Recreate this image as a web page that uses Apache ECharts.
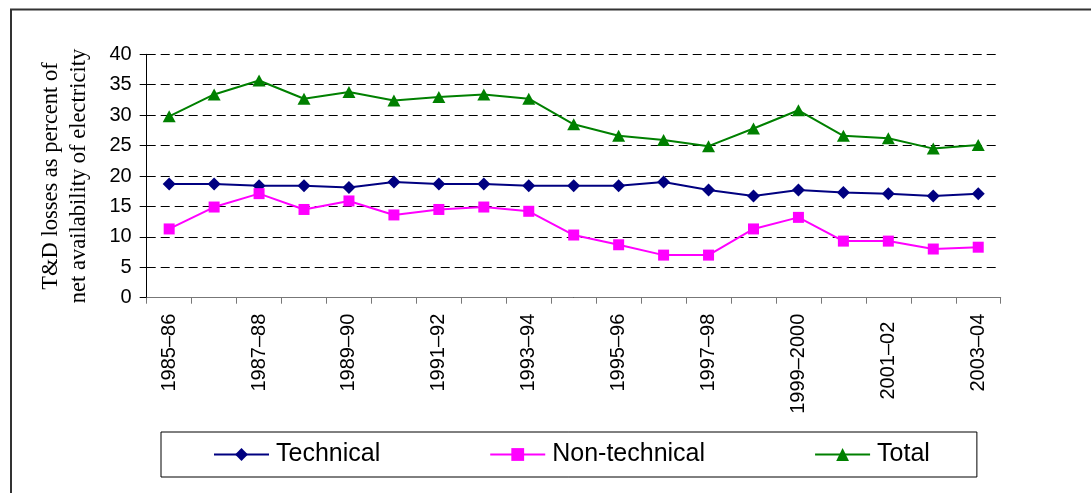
<!DOCTYPE html>
<html>
<head>
<meta charset="utf-8">
<script src="https://cdn.jsdelivr.net/npm/echarts@6/dist/echarts.min.js"></script>
<style>
  html, body { margin: 0; padding: 0; background: #fff; }
  #chart { width: 1091px; height: 493px; }
</style>
</head>
<body>
<div id="chart"></div>
<script>
// Fiscal years on the category axis
const years = [
  '1985–86', '1986–87', '1987–88', '1988–89', '1989–90', '1990–91', '1991–92',
  '1992–93', '1993–94', '1994–95', '1995–96', '1996–97', '1997–98', '1998–99',
  '1999–2000', '2000–01', '2001–02', '2002–03', '2003–04'
];

// T&D losses, percent of net availability of electricity
const technical = [18.7, 18.7, 18.4, 18.4, 18.1, 19.0, 18.7, 18.7, 18.4, 18.4,
                   18.4, 19.0, 17.7, 16.7, 17.7, 17.3, 17.1, 16.7, 17.1];
const nonTechnical = [11.3, 14.9, 17.1, 14.5, 15.9, 13.6, 14.5, 14.9, 14.2, 10.3,
                      8.7, 7.0, 7.0, 11.3, 13.2, 9.3, 9.3, 8.0, 8.3];
const total = [29.8, 33.4, 35.7, 32.7, 33.8, 32.4, 33.0, 33.4, 32.7, 28.5,
               26.6, 25.9, 24.9, 27.8, 30.8, 26.6, 26.2, 24.5, 25.1];

const seriesNames = ['Technical', 'Non-technical', 'Total'];
const yTitle = 'T&D losses as percent of\nnet availability of electricity';

const chart = echarts.init(document.getElementById('chart'), null, { renderer: 'canvas' });

const sansFont = '"Liberation Sans", Arial, sans-serif';

chart.setOption({
  animation: false,
  backgroundColor: '#ffffff',
  graphic: [
    { type: 'line', shape: { x1: 11, y1: 9, x2: 11, y2: 493 }, style: { stroke: '#333', lineWidth: 2 } },
    { type: 'line', shape: { x1: 10, y1: 9.5, x2: 1091, y2: 9.5 }, style: { stroke: '#333', lineWidth: 2 } }
  ],
  grid: { left: 146.7, right: 90.3, top: 54.3, bottom: 195.3, containLabel: false },
  legend: {
    data: seriesNames,
    left: 161,
    top: 432,
    orient: 'horizontal',
    padding: [10, 47, 10, 52],
    itemGap: 109,
    itemWidth: 55,
    itemHeight: 16,
    borderColor: '#000',
    borderWidth: 1,
    borderRadius: 0,
    textStyle: { fontFamily: sansFont, fontSize: 25, color: '#000', padding: [0, 0, 0, 2] }
  },
  xAxis: {
    type: 'category',
    data: years,
    boundaryGap: true,
    axisLine: { lineStyle: { color: '#777', width: 1 } },
    axisTick: { show: true, interval: 0, length: 6, lineStyle: { color: '#777' } },
    axisLabel: {
      interval: 1,
      rotate: 90,
      margin: 16,
      fontFamily: sansFont,
      fontSize: 20,
      color: '#000',
      formatter: (v) => v === '2001–02' ? '{shift|' + v + '}' : v,
      rich: {
        shift: { fontFamily: sansFont, fontSize: 20, color: '#000', padding: [0, 8, 0, 0] }
      }
    },
    splitLine: { show: false }
  },
  yAxis: {
    type: 'value',
    min: 0,
    max: 40,
    interval: 5,
    name: yTitle,
    nameLocation: 'middle',
    nameRotate: 90,
    nameGap: 54,
    nameTextStyle: {
      fontFamily: '"Liberation Serif", "Times New Roman", serif',
      fontSize: 22.5,
      lineHeight: 28,
      color: '#000',
      align: 'center'
    },
    axisLine: { show: true, lineStyle: { color: '#000', width: 1 } },
    axisTick: { show: true, length: 7, lineStyle: { color: '#000' } },
    axisLabel: { fontFamily: sansFont, fontSize: 20, color: '#000', margin: 15 },
    splitLine: { show: true, lineStyle: { color: '#000', type: [9, 5], width: 1 } }
  },
  series: [
    {
      name: 'Technical',
      type: 'line',
      data: technical,
      symbol: 'diamond',
      symbolSize: 13,
      color: '#000080',
      lineStyle: { color: '#000080', width: 2 },
      itemStyle: { color: '#000080' }
    },
    {
      name: 'Non-technical',
      type: 'line',
      data: nonTechnical,
      symbol: 'rect',
      symbolSize: 11,
      color: '#ff00ff',
      lineStyle: { color: '#ff00ff', width: 2 },
      itemStyle: { color: '#ff00ff' }
    },
    {
      name: 'Total',
      type: 'line',
      data: total,
      symbol: 'triangle',
      symbolSize: [13, 12],
      color: '#008000',
      lineStyle: { color: '#008000', width: 2 },
      itemStyle: { color: '#008000' }
    }
  ]
});
</script>
</body>
</html>
